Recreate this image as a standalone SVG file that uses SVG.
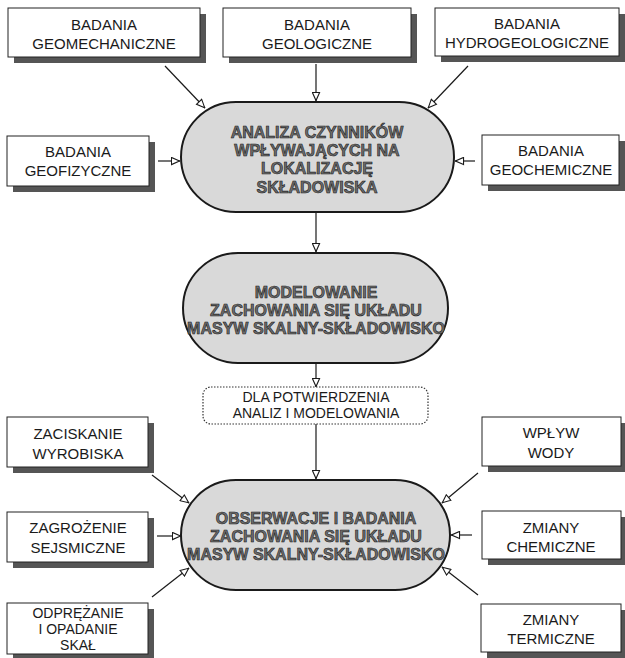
<svg xmlns="http://www.w3.org/2000/svg" width="625" height="658" viewBox="0 0 625 658">
<style>
.bx{fill:#fff;stroke:#222;stroke-width:1}
.sh{fill:#555}
.t{font-family:"Liberation Sans",Arial,sans-serif;font-size:15px;fill:#1a1a1a;text-anchor:middle}
.s{font-size:14px}
.ov{fill:#d9d9d9;stroke:#1a1a1a;stroke-width:2}
.ot{font-family:"Liberation Sans",Arial,sans-serif;font-size:16px;font-weight:bold;fill:#6e6e6e;stroke:#1a1a1a;stroke-width:0.6;text-anchor:middle}
.c{stroke:#1a1a1a;stroke-width:1.2;fill:none;marker-end:url(#ah)}
.db{fill:#fff;stroke:#333;stroke-width:1.2;stroke-dasharray:1.5 1.5}
</style>
<defs>
<marker id="ah" viewBox="0 0 10 10" refX="10" refY="5" markerWidth="10" markerHeight="9" markerUnits="userSpaceOnUse" orient="auto">
<path d="M0.5,1 L9.5,5 L0.5,9 Z" fill="#fff" stroke="#1a1a1a" stroke-width="1.2"/>
</marker>
</defs>
<rect width="625" height="658" fill="#fff"/>

<g id="connectors">
<line class="c" x1="165" y1="66" x2="205" y2="108"/>
<line class="c" x1="316" y1="64" x2="316" y2="101"/>
<line class="c" x1="468" y1="66" x2="428" y2="108"/>
<line class="c" x1="158" y1="161" x2="180" y2="161"/>
<line class="c" x1="475" y1="161" x2="455" y2="161"/>
<line class="c" x1="316" y1="212" x2="316" y2="252"/>
<line class="c" x1="316" y1="363" x2="316" y2="387"/>
<line class="c" x1="316" y1="424" x2="316" y2="479"/>
<line class="c" x1="152" y1="475" x2="189" y2="503"/>
<line class="c" x1="157" y1="536" x2="181" y2="536"/>
<line class="c" x1="152" y1="597" x2="189" y2="568"/>
<line class="c" x1="478" y1="473" x2="442" y2="503"/>
<line class="c" x1="472" y1="535" x2="451" y2="535"/>
<line class="c" x1="478" y1="595" x2="442" y2="567"/>
</g>

<g id="geomechaniczne">
<rect class="sh" x="14" y="14" width="192" height="49"/>
<rect class="bx" x="8" y="8" width="192" height="49"/>
<text class="t" x="104" y="30">BADANIA</text>
<text class="t" x="104" y="49">GEOMECHANICZNE</text>
</g>
<g id="geologiczne">
<rect class="sh" x="229" y="14" width="188" height="49"/>
<rect class="bx" x="223" y="8" width="188" height="49"/>
<text class="t" x="317" y="30">BADANIA</text>
<text class="t" x="317" y="49">GEOLOGICZNE</text>
</g>
<g id="hydrogeologiczne">
<rect class="sh" x="441" y="14" width="184" height="48"/>
<rect class="bx" x="435" y="8" width="184" height="48"/>
<text class="t" x="527" y="29">BADANIA</text>
<text class="t" x="527" y="48">HYDROGEOLOGICZNE</text>
</g>
<g id="geofizyczne">
<rect class="sh" x="13" y="142" width="142" height="50"/>
<rect class="bx" x="7" y="136" width="142" height="50"/>
<text class="t" x="78" y="157">BADANIA</text>
<text class="t" x="78" y="176">GEOFIZYCZNE</text>
</g>
<g id="geochemiczne">
<rect class="sh" x="488" y="141" width="137" height="50"/>
<rect class="bx" x="482" y="135" width="137" height="50"/>
<text class="t" x="551" y="156">BADANIA</text>
<text class="t" x="551" y="175">GEOCHEMICZNE</text>
</g>

<g id="analiza">
<rect class="ov" x="181" y="102" width="273" height="110" rx="55" ry="55"/>
<text class="ot" x="317" y="138">ANALIZA CZYNNIKÓW</text>
<text class="ot" x="317" y="156">WPŁYWAJĄCYCH NA</text>
<text class="ot" x="317" y="174">LOKALIZACJĘ</text>
<text class="ot" x="317" y="193">SKŁADOWISKA</text>
</g>

<g id="modelowanie">
<rect class="ov" x="183" y="253" width="265" height="110" rx="55" ry="55"/>
<text class="ot" x="316" y="298">MODELOWANIE</text>
<text class="ot" x="316" y="316">ZACHOWANIA SIĘ UKŁADU</text>
<text class="ot" x="316" y="334">MASYW SKALNY-SKŁADOWISKO</text>
</g>

<g id="potwierdzenie">
<rect class="db" x="203" y="387" width="225" height="37" rx="8" ry="8"/>
<text class="t s" x="316" y="402">DLA POTWIERDZENIA</text>
<text class="t s" x="316" y="418">ANALIZ I MODELOWANIA</text>
</g>

<g id="obserwacje">
<rect class="ov" x="181" y="480" width="269" height="110" rx="55" ry="55"/>
<text class="ot" x="316" y="524">OBSERWACJE I BADANIA</text>
<text class="ot" x="316" y="542">ZACHOWANIA SIĘ UKŁADU</text>
<text class="ot" x="316" y="560">MASYW SKALNY-SKŁADOWISKO</text>
</g>

<g id="zaciskanie">
<rect class="sh" x="13" y="423" width="141" height="50"/>
<rect class="bx" x="7" y="417" width="141" height="50"/>
<text class="t" x="78" y="439">ZACISKANIE</text>
<text class="t" x="78" y="459">WYROBISKA</text>
</g>
<g id="zagrozenie">
<rect class="sh" x="13" y="518" width="141" height="50"/>
<rect class="bx" x="7" y="512" width="141" height="50"/>
<text class="t" x="78" y="533">ZAGROŻENIE</text>
<text class="t" x="78" y="553">SEJSMICZNE</text>
</g>
<g id="odprezanie">
<rect class="sh" x="13" y="609" width="141" height="49"/>
<rect class="bx" x="7" y="603" width="141" height="51"/>
<text class="t s" x="78" y="618">ODPRĘŻANIE</text>
<text class="t s" x="78" y="634">I OPADANIE</text>
<text class="t s" x="78" y="650">SKAŁ</text>
</g>
<g id="wplyw">
<rect class="sh" x="488" y="423" width="137" height="49"/>
<rect class="bx" x="482" y="417" width="139" height="49"/>
<text class="t" x="551" y="438">WPŁYW</text>
<text class="t" x="551" y="458">WODY</text>
</g>
<g id="chemiczne">
<rect class="sh" x="488" y="517" width="137" height="48"/>
<rect class="bx" x="482" y="511" width="139" height="48"/>
<text class="t" x="551" y="533">ZMIANY</text>
<text class="t" x="551" y="552">CHEMICZNE</text>
</g>
<g id="termiczne">
<rect class="sh" x="487" y="610" width="138" height="48"/>
<rect class="bx" x="481" y="604" width="140" height="48"/>
<text class="t" x="551" y="625">ZMIANY</text>
<text class="t" x="551" y="644">TERMICZNE</text>
</g>
</svg>
